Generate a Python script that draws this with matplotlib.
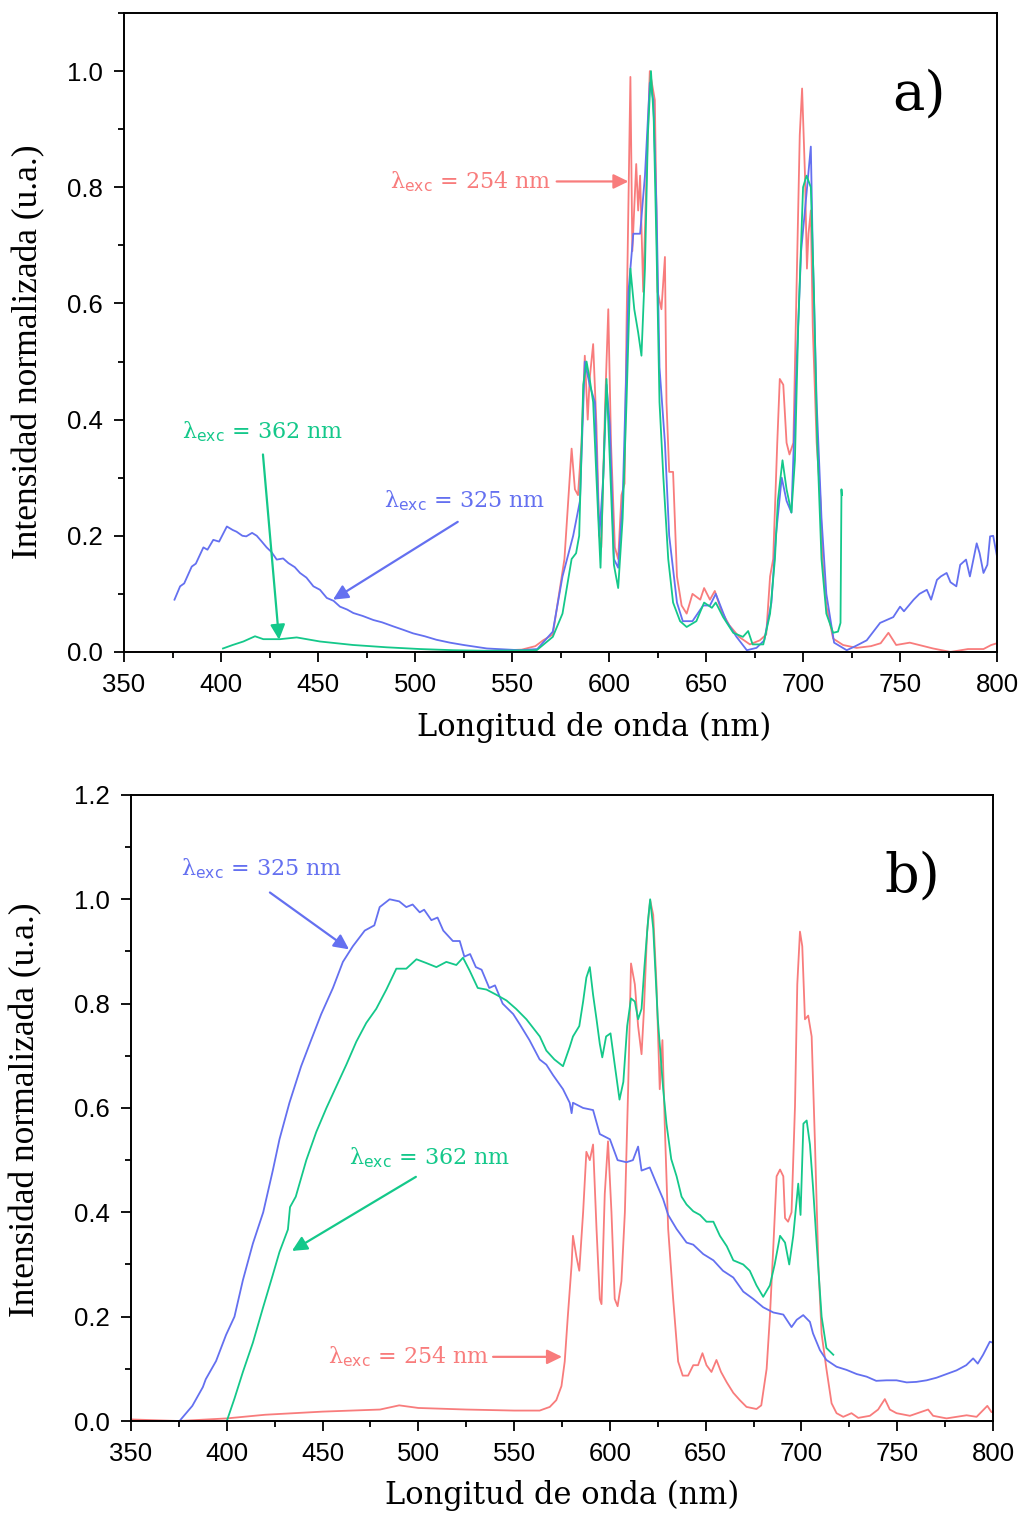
import matplotlib
matplotlib.use('Agg')
import matplotlib.pyplot as plt
from matplotlib.ticker import MultipleLocator

# ---------------- panel a) ----------------
wl_a_254 = [350, 400, 450, 500, 540, 555, 562, 566, 571, 577, 580.7, 582.4, 584, 585.8, 587.5, 589, 590,
            591.8, 593.5, 595, 596, 598, 599.6, 601, 603, 604.7, 606.4, 608, 609, 611, 612, 614, 615, 616,
            617.6, 619.3, 621, 623.6, 625, 627, 628.8, 629.6, 631, 633, 635, 637.4, 640, 643, 647, 649,
            652, 654.5, 658, 662, 667, 672.6, 677.7, 681, 683, 684.6, 686.7, 688, 689.8, 691.5, 693, 695,
            696.6, 698.3, 699.5, 701, 702, 702.8, 704, 705, 707, 709, 710, 712, 715.5, 720.6, 727.6, 735,
            740, 744, 748, 755, 767, 776, 785, 793, 797, 800]
int_a_254 = [0, 0, 0, 0, 0.002, 0.004, 0.01, 0.02, 0.03, 0.16, 0.35, 0.28, 0.27, 0.36, 0.51, 0.40, 0.47,
             0.53, 0.39, 0.20, 0.18, 0.43, 0.59, 0.36, 0.18, 0.16, 0.27, 0.29, 0.56, 0.99, 0.69, 0.84, 0.76,
             0.82, 0.62, 0.82, 1.0, 0.95, 0.62, 0.59, 0.68, 0.43, 0.31, 0.31, 0.13, 0.08, 0.066, 0.10, 0.09,
             0.11, 0.09, 0.105, 0.07, 0.046, 0.026, 0.013, 0.02, 0.03, 0.13, 0.16, 0.36, 0.47, 0.46, 0.36,
             0.34, 0.36, 0.62, 0.89, 0.97, 0.82, 0.66, 0.72, 0.76, 0.56, 0.36, 0.26, 0.16, 0.08, 0.023,
             0.012, 0.007, 0.01, 0.015, 0.033, 0.012, 0.016, 0.006, 0.0, 0.005, 0.005, 0.012, 0.015]

wl_a_325 = [376, 378.9, 381, 384.9, 387, 390.9, 393, 396, 399, 403, 406, 408, 411, 413, 416, 418.4, 421,
            423.5, 426, 428.7, 432, 434.7, 438, 440.7, 444, 447.6, 451, 454.5, 458, 461.3, 465, 468.2,
            473, 478.5, 483, 488.8, 494, 499, 505, 511, 518, 525, 537, 554, 563, 571, 576, 581.5, 585,
            587.5, 590, 592.7, 595, 597, 598.7, 600.4, 602.5, 604.7, 607, 610, 612.5, 616, 618.5, 621,
            622.8, 624.5, 626, 628.8, 631, 635, 638, 643, 648.5, 652, 655, 660.5, 665.7, 671, 676, 680,
            683.7, 686, 689, 691.5, 694, 696.6, 699, 701.8, 704, 705, 707, 709.5, 712, 716, 722.5, 727,
            732.8, 739.7, 746.5, 750, 752, 757, 760, 763.8, 766, 769, 771, 774, 776, 779, 781, 784, 786,
            789.5, 791, 793, 795, 796.4, 798, 800]
int_a_325 = [0.09, 0.113, 0.118, 0.147, 0.152, 0.18, 0.176, 0.193, 0.19, 0.216, 0.21, 0.207, 0.2, 0.199,
             0.205, 0.20, 0.19, 0.18, 0.172, 0.159, 0.161, 0.153, 0.146, 0.136, 0.128, 0.113, 0.107,
             0.093, 0.088, 0.078, 0.073, 0.067, 0.062, 0.055, 0.051, 0.044, 0.038, 0.032, 0.027, 0.021,
             0.016, 0.012, 0.006, 0.003, 0.005, 0.035, 0.13, 0.2, 0.26, 0.5, 0.46, 0.43, 0.2, 0.3, 0.46,
             0.39, 0.16, 0.145, 0.26, 0.62, 0.72, 0.72, 0.82, 0.98, 0.95, 0.76, 0.49, 0.36, 0.2, 0.085,
             0.053, 0.053, 0.08, 0.08, 0.1, 0.053, 0.026, 0.003, 0.007, 0.02, 0.085, 0.2, 0.3, 0.26, 0.24,
             0.49, 0.69, 0.79, 0.87, 0.69, 0.43, 0.23, 0.1, 0.016, 0.003, 0.01, 0.02, 0.05, 0.06, 0.078,
             0.07, 0.09, 0.10, 0.107, 0.09, 0.124, 0.13, 0.136, 0.12, 0.113, 0.15, 0.159, 0.13, 0.187,
             0.17, 0.136, 0.15, 0.199, 0.2, 0.164]

wl_a_362 = [401, 406, 411.5, 417.5, 421.8, 430.4, 439, 451, 468, 485.4, 502.6, 519.7, 537, 562.7, 571, 576,
            580.7, 583, 584.6, 586.7, 588.4, 590, 591.8, 593.5, 595.6, 597, 598.7, 600.4, 602.5, 604.7,
            607, 609, 611, 613, 615, 616.7, 618.5, 620, 621.6, 623, 624.5, 626, 628, 630.5, 633, 636.6,
            640, 645, 649, 653, 655, 658.8, 664, 669, 671.7, 674, 679.5, 683, 685.5, 687, 689.4, 691.5,
            694, 695.8, 697.5, 700, 701.8, 704, 705.6, 707.3, 709.5, 712, 715.5, 718, 719.3, 719.8, 720]
int_a_362 = [0.006, 0.012, 0.018, 0.027, 0.022, 0.022, 0.025, 0.018, 0.012, 0.008, 0.005, 0.003, 0.002,
             0.003, 0.026, 0.066, 0.16, 0.17, 0.2, 0.46, 0.5, 0.47, 0.43, 0.3, 0.145, 0.3, 0.47, 0.33, 0.15,
             0.11, 0.23, 0.43, 0.66, 0.59, 0.55, 0.51, 0.66, 0.89, 1.0, 0.92, 0.69, 0.43, 0.3, 0.16, 0.085,
             0.053, 0.043, 0.053, 0.085, 0.076, 0.085, 0.06, 0.033, 0.026, 0.036, 0.013, 0.013, 0.066, 0.16,
             0.26, 0.33, 0.28, 0.24, 0.33, 0.56, 0.8, 0.82, 0.8, 0.62, 0.36, 0.16, 0.066, 0.033, 0.035,
             0.05, 0.28, 0.27]

# ---------------- panel b) ----------------
wl_b_254 = [350, 375, 400, 420, 450, 480, 490, 500, 525, 550, 563.3, 568.6, 572, 574.7, 576.4, 578, 580,
            580.7, 582.5, 584, 586, 587.7, 589.5, 591.2, 593, 594.7, 595.6, 597.3, 599, 600.8, 602.5, 604,
            606, 607.8, 609.5, 611, 613, 614.7, 616.5, 617.7, 619.4, 621, 622.6, 624.3, 626, 627.4, 628.6,
            630.4, 633, 635.6, 638, 640.8, 643.5, 646, 648.3, 650.4, 653, 655.6, 658, 661, 664.4, 667.8,
            671.3, 676.5, 679, 681.8, 683.5, 685.3, 687, 688.8, 690.5, 691.4, 693, 694.8, 696.6, 697.8,
            699.2, 700.4, 701.8, 703.5, 705.3, 707, 708.8, 710.5, 713, 715.7, 718.3, 721.8, 726.1, 729.6,
            735.7, 740, 743.5, 746.1, 749.6, 756.6, 766.1, 768.7, 775.7, 786.2, 791.4, 797, 799.2, 800]
int_b_254 = [0.003, 0.0, 0.005, 0.012, 0.018, 0.022, 0.03, 0.025, 0.022, 0.02, 0.02, 0.027, 0.04, 0.067,
             0.114, 0.2, 0.3, 0.355, 0.315, 0.288, 0.4, 0.516, 0.5, 0.53, 0.368, 0.234, 0.224, 0.435, 0.536,
             0.4, 0.234, 0.22, 0.268, 0.4, 0.636, 0.877, 0.837, 0.757, 0.703, 0.784, 0.938, 0.998, 0.97,
             0.837, 0.636, 0.73, 0.57, 0.368, 0.234, 0.114, 0.087, 0.087, 0.107, 0.107, 0.13, 0.107, 0.094,
             0.117, 0.094, 0.074, 0.054, 0.04, 0.027, 0.023, 0.03, 0.1, 0.2, 0.335, 0.469, 0.482, 0.469,
             0.389, 0.382, 0.4, 0.603, 0.837, 0.938, 0.91, 0.77, 0.777, 0.737, 0.536, 0.3, 0.167, 0.1,
             0.034, 0.015, 0.008, 0.015, 0.006, 0.01, 0.022, 0.042, 0.022, 0.015, 0.01, 0.022, 0.01, 0.005,
             0.011, 0.008, 0.029, 0.017, 0.018]

wl_b_325 = [375.3, 382, 387.5, 389, 394.4, 399.6, 404, 408.4, 413.6, 419, 424, 427.5, 432.7, 438.8, 444,
            449.3, 455.4, 460.6, 465.8, 472, 477, 479.8, 485, 490, 493.7, 497, 500.7, 503, 506.8, 510, 513,
            518, 521.6, 524, 527, 530, 533, 537, 540, 544, 549.5, 553, 558, 563.3, 566.8, 570.3, 575.5,
            579, 580, 580.7, 586, 591.2, 594.7, 600, 604, 608.6, 612, 614.7, 616.5, 620.8, 624.3, 627.8,
            630.4, 634.8, 640, 643.5, 648.7, 654, 659, 664.4, 669.6, 674.8, 680, 685.3, 690.5, 694.8,
            697.5, 700.9, 704.4, 706, 709.6, 713, 718.3, 723.5, 728.8, 734, 739, 744.4, 749.6, 754.9, 760,
            765.3, 770.5, 775.7, 780.9, 786, 789.6, 792, 794.8, 798.3, 800]
int_b_325 = [0.0, 0.029, 0.065, 0.08, 0.115, 0.165, 0.2, 0.27, 0.34, 0.4, 0.48, 0.54, 0.61, 0.68, 0.73,
             0.78, 0.83, 0.88, 0.91, 0.94, 0.95, 0.985, 1.0, 0.996, 0.985, 0.99, 0.975, 0.98, 0.96, 0.965,
             0.94, 0.92, 0.92, 0.89, 0.895, 0.87, 0.865, 0.83, 0.835, 0.8, 0.78, 0.76, 0.73, 0.693, 0.683,
             0.663, 0.636, 0.61, 0.59, 0.61, 0.6, 0.596, 0.55, 0.54, 0.5, 0.496, 0.5, 0.526, 0.48, 0.486,
             0.455, 0.425, 0.395, 0.368, 0.342, 0.338, 0.32, 0.308, 0.288, 0.275, 0.248, 0.234, 0.218,
             0.208, 0.204, 0.18, 0.194, 0.203, 0.19, 0.168, 0.136, 0.117, 0.104, 0.098, 0.09, 0.085, 0.077,
             0.078, 0.078, 0.074, 0.075, 0.078, 0.083, 0.09, 0.097, 0.107, 0.12, 0.11, 0.127, 0.152, 0.15]

wl_b_362 = [400, 404, 408.4, 413.6, 418.8, 424, 427.5, 431.9, 433, 436, 441.5, 446.7, 452, 457, 462.4,
            467.6, 472.8, 478, 483.3, 488.5, 493.7, 499, 504, 509.4, 514.6, 519.8, 523.3, 526.8, 531,
            535.5, 540.7, 546, 551, 556.4, 563.4, 566.8, 571, 575.5, 579, 580.7, 584, 586, 587.7, 589.5,
            591.2, 593, 594.7, 596, 598, 600.3, 602.5, 605, 607, 609, 611, 613, 614.7, 616.5, 618, 620,
            621, 622.6, 625, 627.8, 629.5, 632, 634.8, 637.4, 640, 643.5, 647, 650.4, 654, 657.4, 661,
            664.4, 669.6, 673, 676.5, 680, 683.5, 686, 688.8, 691.4, 693.6, 695.7, 698.3, 699.5, 701,
            702.7, 704.4, 706, 708, 710.5, 713, 716.6]
int_b_362 = [0.0, 0.043, 0.094, 0.15, 0.216, 0.28, 0.324, 0.367, 0.41, 0.43, 0.5, 0.554, 0.6, 0.64, 0.683,
             0.727, 0.763, 0.79, 0.827, 0.867, 0.867, 0.885, 0.878, 0.87, 0.88, 0.874, 0.888, 0.863, 0.83,
             0.827, 0.817, 0.806, 0.79, 0.77, 0.737, 0.71, 0.693, 0.68, 0.717, 0.737, 0.757, 0.804, 0.85,
             0.87, 0.817, 0.77, 0.723, 0.697, 0.737, 0.743, 0.683, 0.616, 0.65, 0.757, 0.81, 0.804, 0.77,
             0.79, 0.87, 0.964, 1.0, 0.944, 0.77, 0.636, 0.57, 0.502, 0.469, 0.43, 0.415, 0.402, 0.395,
             0.382, 0.382, 0.355, 0.335, 0.308, 0.3, 0.288, 0.26, 0.238, 0.26, 0.3, 0.355, 0.342, 0.3,
             0.355, 0.455, 0.395, 0.57, 0.576, 0.53, 0.449, 0.335, 0.2, 0.14, 0.127]

exc_labels = ['254', '325', '362']

c254 = '#F87C7C'
c325 = '#6470F0'
c362 = '#14C88A'

plt.rcParams['font.family'] = 'Liberation Sans'
plt.rcParams['mathtext.fontset'] = 'dejavuserif'

fig = plt.figure(figsize=(10.26, 15.13), dpi=100)
ax1 = fig.add_axes([0.1209, 0.5691, 0.8509, 0.4223])
ax2 = fig.add_axes([0.1277, 0.0608, 0.8402, 0.4138])


def style_axes(ax, ymax, ylab_xy, xlab_xy):
    ax.set_xlim(350, 800)
    ax.set_ylim(0, ymax)
    ax.xaxis.set_major_locator(MultipleLocator(50))
    ax.xaxis.set_minor_locator(MultipleLocator(25))
    ax.yaxis.set_major_locator(MultipleLocator(0.2))
    ax.yaxis.set_minor_locator(MultipleLocator(0.1))
    ax.yaxis.set_major_formatter(matplotlib.ticker.FormatStrFormatter('%.1f'))
    ax.tick_params(which='major', direction='out', length=7, width=1.3, labelsize=18.5, pad=8)
    ax.tick_params(which='minor', direction='out', length=4, width=1.3)
    for s in ax.spines.values():
        s.set_linewidth(1.4)
    ax.set_xlabel('Longitud de onda (nm)', family='DejaVu Serif', fontsize=22)
    ax.set_ylabel('Intensidad normalizada (u.a.)', family='Liberation Serif', fontsize=25.5)
    ax.yaxis.set_label_coords(*ylab_xy)
    ax.xaxis.set_label_coords(*xlab_xy)


def label(ax, txt, color, xy_text, xy_tail, xy_head):
    ax.text(xy_text[0], xy_text[1], 'λ$_{\\mathsf{exc}}$ = ' + txt + ' nm', color=color,
            family='DejaVu Serif', fontsize=16, va='center', ha='left')
    ax.annotate('', xy=xy_head, xytext=xy_tail,
                arrowprops=dict(arrowstyle='-|>,head_length=0.45,head_width=0.22', color=color, lw=1.6,
                                mutation_scale=20, shrinkA=0, shrinkB=0))


# panel a
ax1.plot(wl_a_254, int_a_254, color=c254, lw=1.3)
ax1.plot(wl_a_325, int_a_325, color=c325, lw=1.3)
ax1.plot(wl_a_362, int_a_362, color=c362, lw=1.3)
style_axes(ax1, 1.1, (-0.09, 0.47), (0.538, -0.093))
label(ax1, exc_labels[0], c254, (487, 0.81), (573, 0.81), (610, 0.81))
label(ax1, exc_labels[2], c362, (380, 0.379), (421.6, 0.34), (429.9, 0.021))
label(ax1, exc_labels[1], c325, (484, 0.26), (522, 0.224), (457.7, 0.09))
ax1.text(760, 0.96, 'a)', family='DejaVu Serif', fontsize=39, ha='center', va='center')

# panel b
ax2.plot(wl_b_254, int_b_254, color=c254, lw=1.3)
ax2.plot(wl_b_325, int_b_325, color=c325, lw=1.3)
ax2.plot(wl_b_362, int_b_362, color=c362, lw=1.3)
style_axes(ax2, 1.2, (-0.103, 0.497), (0.5, -0.094))
label(ax2, exc_labels[1], c325, (376, 1.058), (422.5, 1.013), (463.8, 0.904))
label(ax2, exc_labels[2], c362, (463.8, 0.505), (498.7, 0.468), (434, 0.326))
label(ax2, exc_labels[0], c254, (452.8, 0.123), (539, 0.123), (575, 0.123))
ax2.text(757.6, 1.044, 'b)', family='DejaVu Serif', fontsize=39, ha='center', va='center')

fig.savefig('out.png', dpi=100)
